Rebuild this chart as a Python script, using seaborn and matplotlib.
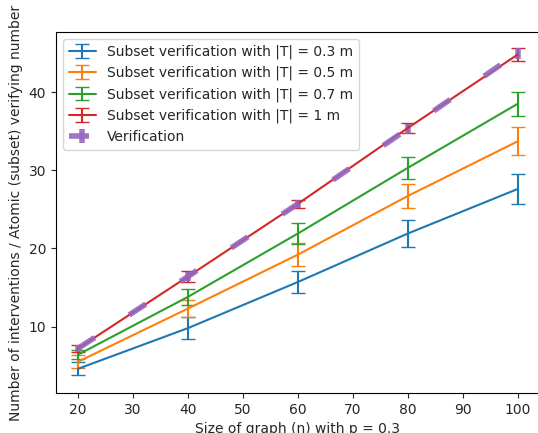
import matplotlib
matplotlib.use("Agg")
import matplotlib.pyplot as plt
import seaborn as sns
import numpy as np

sizes = [20, 40, 60, 80, 100]
labels = ["Subset verification with |T| = 0.3 m",
          "Subset verification with |T| = 0.5 m",
          "Subset verification with |T| = 0.7 m",
          "Subset verification with |T| = 1 m"]
mean_03 = [4.6, 9.8, 15.7, 21.9, 27.6]
err_03 = [0.85, 1.4, 1.35, 1.7, 1.95]
mean_05 = [5.5, 12.3, 19.2, 26.7, 33.7]
err_05 = [0.8, 1.05, 1.5, 1.5, 1.8]
mean_07 = [6.4, 13.8, 21.9, 30.3, 38.5]
err_07 = [0.6, 1.0, 1.3, 1.4, 1.5]
mean_10 = [7.2, 16.4, 25.7, 35.4, 44.8]
err_10 = [0.5, 0.7, 0.55, 0.65, 0.85]
verif_label = "Verification"
mean_ver = [7.2, 16.4, 25.7, 35.3, 45.0]
err_ver = [0.45, 0.6, 0.5, 0.6, 0.7]

sns.set_style("white")
plt.rcParams['font.family'] = ['DejaVu Sans']
plt.rcParams['axes.edgecolor'] = 'black'
pal = sns.color_palette("tab10")

fig = plt.figure(figsize=(5.38, 4.33), dpi=100)
ax = fig.add_axes([56/538, 1 - 393/433, (539.5 - 56)/538, (393 - 32)/433])

series = [(mean_03, err_03), (mean_05, err_05), (mean_07, err_07), (mean_10, err_10)]
for i, ((m, e), lab) in enumerate(zip(series, labels)):
    ax.errorbar(sizes, m, yerr=e, color=pal[i], capsize=5, lw=1.5, label=lab)

ax.errorbar(sizes, mean_ver, yerr=err_ver, color=pal[4], lw=4, elinewidth=4,
            capsize=0, dashes=(3.6, 7.4), label=verif_label, alpha=0.9)

ax.set_xlim(16, 104)
ax.set_ylim(1.5, 47.7)
ax.set_xticks([20, 30, 40, 50, 60, 70, 80, 90, 100])
ax.set_yticks([10, 20, 30, 40])
ax.tick_params(axis='both', direction='out', length=3.5, width=0.8, labelsize=10,
               bottom=True, left=True)
for s in ax.spines.values():
    s.set_linewidth(0.8)
    s.set_color('black')
ax.set_xlabel("Size of graph (n) with p = 0.3", fontsize=10)
ax.set_ylabel("Number of interventions / Atomic (subset) verifying number", fontsize=10)
ax.legend(loc='upper left', fontsize=10, frameon=True)

fig.savefig("out.png", dpi=100)
